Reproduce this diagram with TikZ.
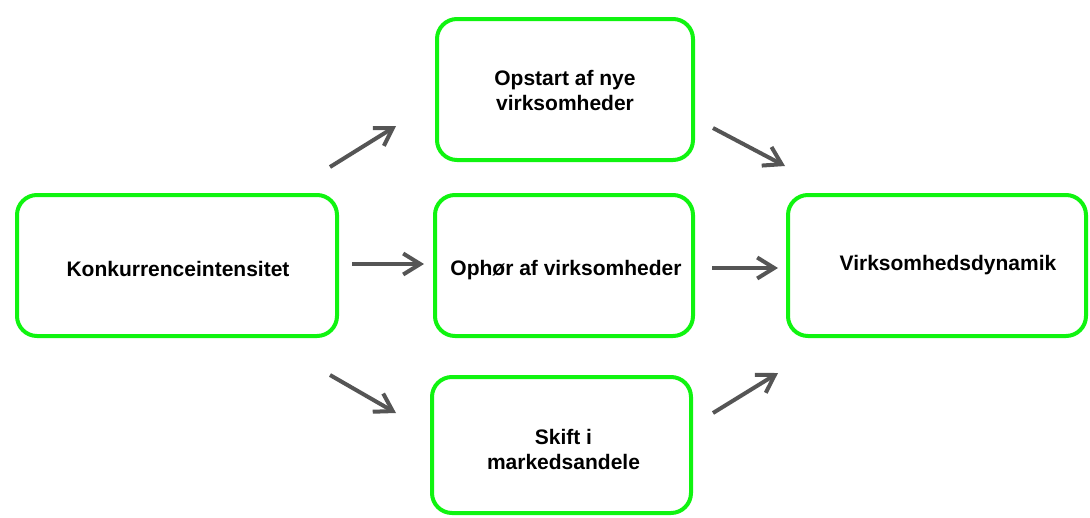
\documentclass[tikz,border=0pt]{standalone}
\usepackage{fontspec}
\setmainfont{Liberation Sans}
\usetikzlibrary{arrows.meta}
\definecolor{boxgreen}{HTML}{10F410}
\definecolor{arrowgrey}{HTML}{555555}
\begin{document}
\begin{tikzpicture}[x=1pt,y=-1pt,
  box/.style={draw=boxgreen, line width=4pt, rounded corners=20pt, fill=white, inner sep=0pt},
  lbl/.style={font=\bfseries\fontsize{21}{25}\selectfont, align=center, inner sep=0pt},
  conn/.style={draw=arrowgrey, line width=4pt, -{Straight Barb[length=17pt,width=21pt]}}]
\useasboundingbox (0,0) rectangle (1090,517);
\node[box, minimum width=320pt, minimum height=141pt,
  label={[lbl, xshift=1pt, yshift=-3pt]center:Konkurrenceintensitet}] (konk) at (177,265.5) {};
\node[box, minimum width=256pt, minimum height=141pt,
  label={[lbl, yshift=-1pt]center:Opstart af nye\\virksomheder}] (opstart) at (565,89.5) {};
\node[box, minimum width=258pt, minimum height=141pt,
  label={[lbl, xshift=2pt, yshift=-5pt]center:Ophør af virksomheder}] (ophor) at (564,265.5) {};
\node[box, minimum width=259pt, minimum height=136pt,
  label={[lbl, xshift=2pt, yshift=-4pt]center:Skift i\\markedsandele}] (skift) at (561.5,445) {};
\node[box, minimum width=298pt, minimum height=141pt,
  label={[lbl, xshift=11pt, yshift=0pt]center:Virksomhedsdynamik}] (virk) at (937,265.5) {};
\coordinate (a1s) at (330,167); \coordinate (a1e) at (396,126);
\coordinate (a2s) at (713,128); \coordinate (a2e) at (785,166);
\coordinate (a3s) at (352,264); \coordinate (a3e) at (424,264);
\coordinate (a4s) at (712,268); \coordinate (a4e) at (778,268);
\coordinate (a5s) at (330,375); \coordinate (a5e) at (396,413);
\coordinate (a6s) at (713,413); \coordinate (a6e) at (778,373);
\draw[conn] (a1s) -- (a1e);
\draw[conn] (a2s) -- (a2e);
\draw[conn] (a3s) -- (a3e);
\draw[conn] (a4s) -- (a4e);
\draw[conn] (a5s) -- (a5e);
\draw[conn] (a6s) -- (a6e);
\end{tikzpicture}
\end{document}
